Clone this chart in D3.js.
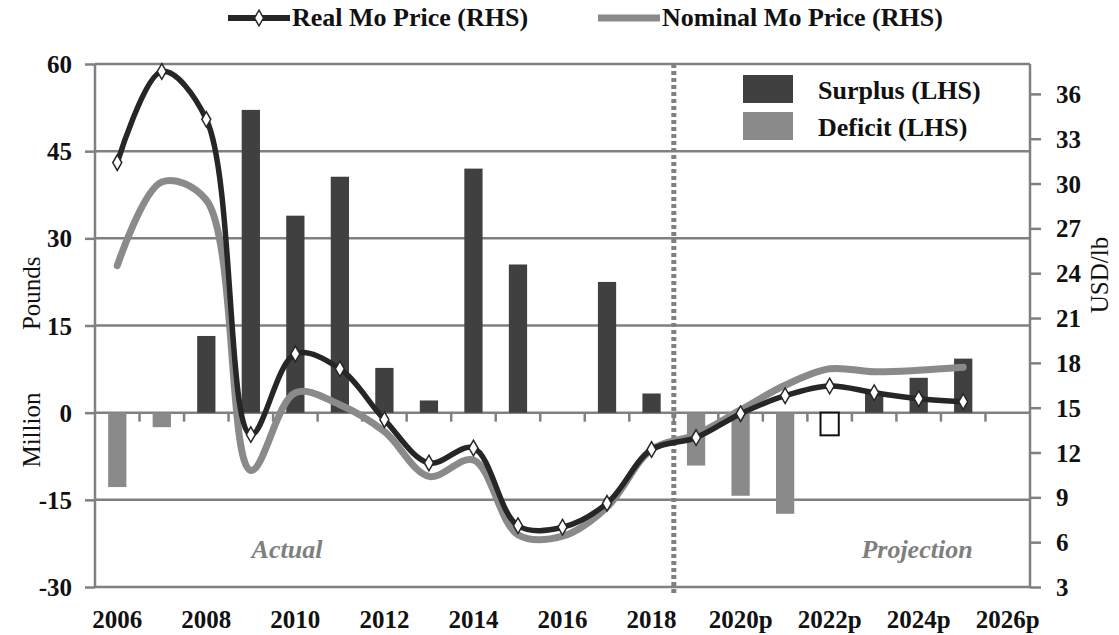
<!DOCTYPE html>
<html lang="en">
<head>
  <meta charset="UTF-8">
  <title>Mo market balance and price</title>
  <style>
    body {
      margin: 0;
      background: #fff;
    }
    svg text {
      font-family: "Liberation Serif", "Times New Roman", serif;
      fill: #111;
    }
  </style>
</head>
<body>
  <svg></svg>
</body>
<script src="https://cdn.jsdelivr.net/npm/d3@7"></script>
<script>
  var width = 1119
  var height = 635

  // categories
  var years = ['2006','2007','2008','2009','2010','2011','2012','2013','2014','2015','2016',
    '2017','2018','2019p','2020p','2021p','2022p','2023p','2024p','2025p','2026p']
  var xLabels = ['2006','2008','2010','2012','2014','2016','2018','2020p','2022p','2024p','2026p']

  // market balance, million pounds (LHS); null = nothing drawn
  var balance = [-12.8, -2.5, 13.2, 52.1, 33.9, 40.6, 7.7, 2.1, 42.0, 25.5, null,
    22.5, 3.3, -9.1, -14.3, -17.4, -3.9, 3.4, 6.0, 9.3, null]
  var hollowYears = ['2022p']

  // prices, USD/lb (RHS)
  var realPrice = [31.4, 37.5, 34.3, 13.2, 18.6, 17.6, 14.2, 11.3, 12.3, 7.1, 7.0,
    8.6, 12.2, 13.0, 14.6, 15.8, 16.45, 16.0, 15.6, 15.4]
  var nominalPrice = [24.5, 30.1, 28.9, 10.8, 16.0, 15.2, 13.4, 10.4, 11.5, 6.5, 6.4,
    8.35, 12.2, 13.2, 14.85, 16.5, 17.6, 17.4, 17.5, 17.7]

  var leftTicks = [-30, -15, 0, 15, 30, 45, 60]
  var rightTicks = [3, 6, 9, 12, 15, 18, 21, 24, 27, 30, 33, 36]

  // plot box (named so they don't clash with window.top etc)
  var pL = 95, pR = 1030, pT = 64, pB = 587
  var grey = '#808080'

  var svg = d3.select('svg')
    .attr('width', width)
    .attr('height', height)

  var x = d3.scaleBand().domain(years).range([pL, pR])
  var yL = d3.scaleLinear().domain([-30, 60]).range([pB, pT])
  var yR = d3.scaleLinear().domain([3, 38]).range([pB, pT])
  var cx = d => x(d) + x.bandwidth() / 2

  // grid lines
  svg.append('g')
    .selectAll('line')
    .data(leftTicks)
    .enter()
    .append('line')
    .attr('x1', pL)
    .attr('x2', pR)
    .attr('y1', d => yL(d))
    .attr('y2', d => yL(d))
    .attr('stroke', grey)
    .attr('stroke-width', 2.5)

  // left axis (plain hyphen for negatives, like the original)
  var gl = svg.append('g')
    .attr('transform', `translate(${pL},0)`)
    .call(d3.axisLeft(yL).tickValues(leftTicks).tickFormat(d => String(d)).tickSize(10).tickPadding(13))
  gl.selectAll('line, path').attr('stroke', grey).attr('stroke-width', 2.5)
  gl.select('.domain').attr('d', `M0,${pT}V${pB}`)
  gl.selectAll('text')
    .attr('dy', '0.34em')
    .style('font-size', '25px')
    .style('font-weight', 'bold')
    .style('fill', '#111')

  // right axis
  var gr = svg.append('g')
    .attr('transform', `translate(${pR},0)`)
    .call(d3.axisRight(yR).tickValues(rightTicks).tickSize(11).tickPadding(15))
  gr.selectAll('line, path').attr('stroke', grey).attr('stroke-width', 2.5)
  gr.select('.domain').attr('d', `M0,${pT}V${pB}`)
  gr.selectAll('text')
    .attr('dy', '0.34em')
    .style('font-size', '25px')
    .style('font-weight', 'bold')
    .style('fill', '#111')

  // category ticks on the zero line
  svg.append('g')
    .selectAll('line')
    .data(years.slice(1))
    .enter()
    .append('line')
    .attr('x1', d => x(d))
    .attr('x2', d => x(d))
    .attr('y1', yL(0))
    .attr('y2', yL(0) + 9)
    .attr('stroke', grey)
    .attr('stroke-width', 2.5)

  // bottom category labels
  var gx = svg.append('g')
    .attr('transform', `translate(0,${pB})`)
    .call(d3.axisBottom(x).tickValues(xLabels).tickSize(0).tickPadding(0))
  gx.select('.domain').remove()
  gx.selectAll('text')
    .attr('y', 41)
    .attr('dy', null)
    .style('font-size', '25px')
    .style('font-weight', 'bold')
    .style('fill', '#111')

  // bars
  var barW = x.bandwidth() * 0.41
  var bars = years.map((d, i) => ({ year: d, v: balance[i] })).filter(d => d.v != null)
  svg.append('g')
    .selectAll('rect')
    .data(bars)
    .enter()
    .append('rect')
    .attr('x', d => cx(d.year) - barW / 2)
    .attr('width', barW)
    .attr('y', d => yL(Math.max(0, d.v)))
    .attr('height', d => Math.abs(yL(d.v) - yL(0)))
    .attr('fill', d => hollowYears.includes(d.year) ? '#fff' : (d.v >= 0 ? '#404040' : '#8a8a8a'))
    .attr('stroke', d => hollowYears.includes(d.year) ? '#111' : 'none')
    .attr('stroke-width', 2)

  // actual / projection divider
  var divX = x('2019p')
  svg.append('line')
    .attr('x1', divX)
    .attr('x2', divX)
    .attr('y1', pT)
    .attr('y2', pB + 6)
    .attr('stroke', grey)
    .attr('stroke-width', 5)
    .attr('stroke-dasharray', '4,3')

  // price lines
  var line = d3.line()
    .x((d, i) => cx(years[i]))
    .y(d => yR(d))
    .curve(d3.curveCatmullRom.alpha(0.5))

  svg.append('path')
    .datum(nominalPrice)
    .attr('d', line)
    .attr('fill', 'none')
    .attr('stroke', '#8a8a8a')
    .attr('stroke-width', 7)
    .attr('stroke-linecap', 'round')

  svg.append('path')
    .datum(realPrice)
    .attr('d', line)
    .attr('fill', 'none')
    .attr('stroke', '#262626')
    .attr('stroke-width', 5.5)
    .attr('stroke-linecap', 'round')

  var diamond = d3.symbol().type(d3.symbolDiamond).size(70)
  svg.append('g')
    .selectAll('path')
    .data(realPrice)
    .enter()
    .append('path')
    .attr('d', diamond)
    .attr('transform', (d, i) => `translate(${cx(years[i])},${yR(d)})`)
    .attr('fill', '#fff')
    .attr('stroke', '#262626')
    .attr('stroke-width', 1.5)

  // period labels
  var periods = [
    { name: 'Actual', x: 287 },
    { name: 'Projection', x: 917 }
  ]
  svg.append('g')
    .selectAll('text')
    .data(periods)
    .enter()
    .append('text')
    .attr('x', d => d.x)
    .attr('y', 558)
    .attr('text-anchor', 'middle')
    .style('font-size', '26px')
    .style('font-weight', 'bold')
    .style('font-style', 'italic')
    .style('fill', '#7f7f7f')
    .text(d => d.name)

  // axis titles
  svg.append('text')
    .attr('transform', 'translate(40,362) rotate(-90)')
    .attr('text-anchor', 'middle')
    .attr('xml:space', 'preserve')
    .style('white-space', 'pre')
    .style('font-size', '25px')
    .text('Million          Pounds')
  svg.append('text')
    .attr('transform', 'translate(1108,275) rotate(-90)')
    .attr('text-anchor', 'middle')
    .style('font-size', '25px')
    .text('USD/lb')

  // top legend
  var lineLegend = [
    { name: 'Real Mo Price (RHS)', x: 228, color: '#262626', w: 6, marker: true },
    { name: 'Nominal Mo Price (RHS)', x: 598, color: '#8a8a8a', w: 7, marker: false }
  ]
  var ll = svg.append('g')
    .selectAll('g')
    .data(lineLegend)
    .enter()
    .append('g')
    .attr('transform', d => `translate(${d.x},18)`)
  ll.append('line')
    .attr('x1', 0)
    .attr('x2', 62)
    .attr('stroke', d => d.color)
    .attr('stroke-width', d => d.w)
  ll.filter(d => d.marker)
    .append('path')
    .attr('d', diamond)
    .attr('transform', 'translate(31,0)')
    .attr('fill', '#fff')
    .attr('stroke', '#262626')
    .attr('stroke-width', 1.5)
  ll.append('text')
    .attr('x', 64)
    .attr('y', 8)
    .style('font-size', '26px')
    .style('font-weight', 'bold')
    .text(d => d.name)

  // bar legend
  var barLegend = [
    { name: 'Surplus (LHS)', color: '#404040', y: 75 },
    { name: 'Deficit (LHS)', color: '#8a8a8a', y: 112 }
  ]
  var bl = svg.append('g')
    .selectAll('g')
    .data(barLegend)
    .enter()
    .append('g')
    .attr('transform', d => `translate(743,${d.y})`)
  bl.append('rect')
    .attr('width', 50)
    .attr('height', 28)
    .attr('fill', d => d.color)
  bl.append('text')
    .attr('x', 75)
    .attr('y', 24)
    .style('font-size', '26px')
    .style('font-weight', 'bold')
    .text(d => d.name)
</script>
</html>
